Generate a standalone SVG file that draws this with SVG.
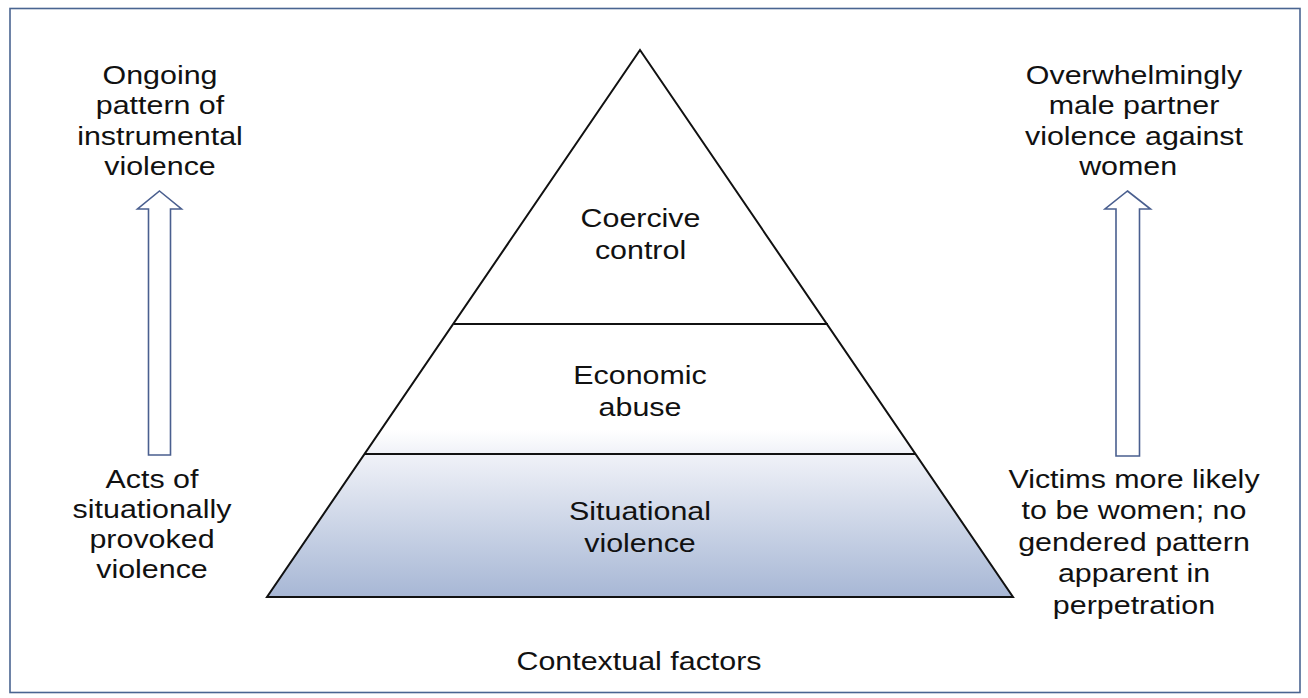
<svg xmlns="http://www.w3.org/2000/svg" width="1308" height="698" viewBox="0 0 1308 698">
  <style>
    .lbl { font-family: "Liberation Sans", Arial, sans-serif; font-size: 26px; fill: #111; text-anchor: middle; }
    .tier { fill: none; stroke: #111; stroke-width: 2; stroke-linejoin: miter; }
    .up { fill: #fff; stroke: #4a5f8f; stroke-width: 1.6; stroke-linejoin: miter; }
  </style>
  <defs>
    <linearGradient id="baseFill" gradientUnits="userSpaceOnUse" x1="0" y1="430" x2="0" y2="597">
      <stop offset="0" stop-color="#ffffff"/>
      <stop offset="0.14" stop-color="#f0f2f8"/>
      <stop offset="1" stop-color="#a7b7d5"/>
    </linearGradient>
  </defs>

  <rect x="0" y="0" width="1308" height="698" fill="#fff"/>
  <!-- outer frame -->
  <rect x="10" y="8.5" width="1290" height="684" fill="none" stroke="#4a6591" stroke-width="1.6"/>

  <!-- pyramid -->
  <g id="pyramid">
    <polygon points="640,50 1013,597 267,597" fill="url(#baseFill)"/>
    <polygon class="tier" points="640,50 1013,597 267,597"/>
    <line class="tier" x1="454" y1="324" x2="828" y2="324"/>
    <line class="tier" x1="365" y1="454" x2="916" y2="454"/>
  </g>

  <g id="tier-coercive" transform="translate(640.5 0) scale(1.17 1)">
    <text class="lbl" x="0" y="227">Coercive</text>
    <text class="lbl" x="0" y="259">control</text>
  </g>
  <g id="tier-economic" transform="translate(640 0) scale(1.17 1)">
    <text class="lbl" x="0" y="384">Economic</text>
    <text class="lbl" x="0" y="416">abuse</text>
  </g>
  <g id="tier-situational" transform="translate(640 0) scale(1.17 1)">
    <text class="lbl" x="0" y="520">Situational</text>
    <text class="lbl" x="0" y="552">violence</text>
  </g>

  <!-- upward block arrows -->
  <g id="connectors">
    <polygon class="up" points="159.5,191 181.5,209 170.5,209 170.5,455 148.5,455 148.5,209 137.5,209"/>
    <polygon class="up" points="1127.5,191 1150.5,209 1139.5,209 1139.5,456 1116,456 1116,209 1105,209"/>
  </g>

  <g id="left-top" transform="translate(160 0) scale(1.17 1)">
    <text class="lbl" x="0" y="84">Ongoing</text>
    <text class="lbl" x="0" y="114.5">pattern of</text>
    <text class="lbl" x="0" y="145">instrumental</text>
    <text class="lbl" x="0" y="175">violence</text>
  </g>
  <g id="left-bottom" transform="translate(152 0) scale(1.17 1)">
    <text class="lbl" x="0" y="488">Acts of</text>
    <text class="lbl" x="0" y="518">situationally</text>
    <text class="lbl" x="0" y="548">provoked</text>
    <text class="lbl" x="0" y="578">violence</text>
  </g>
  <g id="right-top" transform="translate(1134 0) scale(1.17 1)">
    <text class="lbl" x="0" y="84">Overwhelmingly</text>
    <text class="lbl" x="0" y="114.5">male partner</text>
    <text class="lbl" x="0" y="145">violence against</text>
    <text class="lbl" x="-5" y="175">women</text>
  </g>
  <g id="right-bottom" transform="translate(1134 0) scale(1.17 1)">
    <text class="lbl" x="0" y="488">Victims more likely</text>
    <text class="lbl" x="0" y="519.5">to be women; no</text>
    <text class="lbl" x="0" y="551">gendered pattern</text>
    <text class="lbl" x="0" y="582.5">apparent in</text>
    <text class="lbl" x="0" y="614">perpetration</text>
  </g>
  <g id="footer" transform="translate(639 0) scale(1.17 1)">
    <text class="lbl" x="0" y="670">Contextual factors</text>
  </g>
</svg>
